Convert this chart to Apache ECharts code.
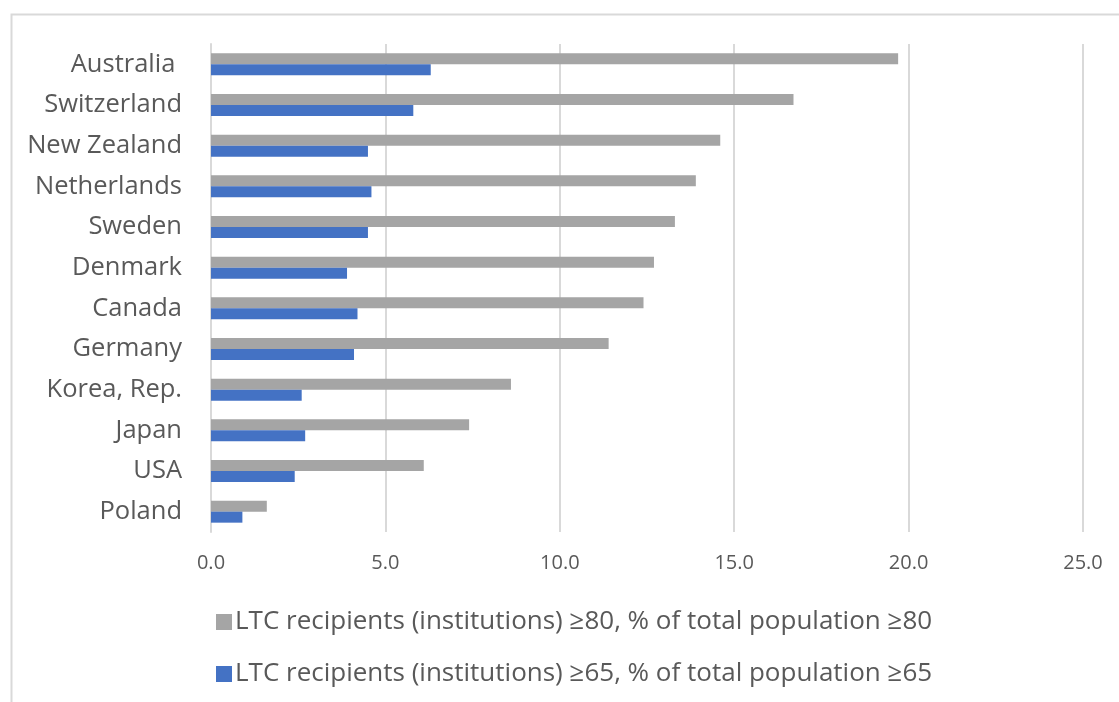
<!DOCTYPE html>
<html>
<head>
<meta charset="utf-8">
<script src="https://cdn.jsdelivr.net/npm/echarts@6/dist/echarts.min.js"></script>
<style>
    html, body { margin: 0; padding: 0; background: #fff; }
    #chart { width: 1119px; height: 702px; }
</style>
</head>
<body>
<div id="chart"></div>
<script>
// data
var countries = ['Australia ', 'Switzerland', 'New Zealand', 'Netherlands', 'Sweden', 'Denmark',
    'Canada', 'Germany', 'Korea, Rep.', 'Japan', 'USA', 'Poland'];
var over80 = [19.7, 16.7, 14.6, 13.9, 13.3, 12.7, 12.4, 11.4, 8.6, 7.4, 6.1, 1.6];
var over65 = [6.3, 5.8, 4.5, 4.6, 4.5, 3.9, 4.2, 4.1, 2.6, 2.7, 2.4, 0.9];
var seriesNames = [
    'LTC recipients (institutions) \u226580, % of total population \u226580',
    'LTC recipients (institutions) \u226565, % of total population \u226565'
];
var xTicks = { min: 0, max: 25, interval: 5 };

var textColor = '#595959';
var fontFamily = '"Open Sans", "Noto Sans", sans-serif';

var chart = echarts.init(document.getElementById('chart'));

var option = {
    backgroundColor: '#fff',
    textStyle: { fontFamily: fontFamily, color: textColor },
    animation: false,
    graphic: [
        {
            type: 'rect',
            shape: { x: 11.5, y: 14.5, width: 1200, height: 800 },
            style: { fill: 'none', stroke: '#d9d9d9', lineWidth: 2 },
            silent: true
        }
    ],
    grid: {
        left: 211,
        right: 36,
        top: 44,
        bottom: 170,
        containLabel: false
    },
    legend: {
        orient: 'vertical',
        left: 211,
        top: 604,
        itemWidth: 16,
        itemHeight: 16,
        itemGap: 26,
        icon: 'rect',
        data: seriesNames,
        textStyle: {
            fontFamily: fontFamily,
            fontSize: 26,
            color: textColor,
            lineHeight: 24,
            padding: [0, 0, 0, -2]
        }
    },
    xAxis: {
        type: 'value',
        min: xTicks.min,
        max: xTicks.max,
        interval: xTicks.interval,
        axisLine: { show: false },
        axisTick: { show: false },
        splitLine: { show: true, lineStyle: { color: '#d9d9d9', width: 2 } },
        axisLabel: {
            fontFamily: fontFamily,
            fontSize: 20,
            color: textColor,
            margin: 21,
            formatter: function (v) { return v.toFixed(1); }
        }
    },
    yAxis: {
        type: 'category',
        inverse: true,
        data: countries,
        axisLine: { show: true, lineStyle: { color: '#d9d9d9', width: 2 } },
        axisTick: { show: false },
        axisLabel: {
            fontFamily: fontFamily,
            fontSize: 25.5,
            color: textColor,
            margin: 29
        }
    },
    series: [
        {
            name: seriesNames[0],
            type: 'bar',
            data: over80,
            barWidth: 11,
            barGap: '0%',
            itemStyle: { color: '#a5a5a5' }
        },
        {
            name: seriesNames[1],
            type: 'bar',
            data: over65,
            barWidth: 11,
            barGap: '0%',
            itemStyle: { color: '#4472c4' }
        }
    ]
};

chart.setOption(option);
</script>
</body>
</html>
